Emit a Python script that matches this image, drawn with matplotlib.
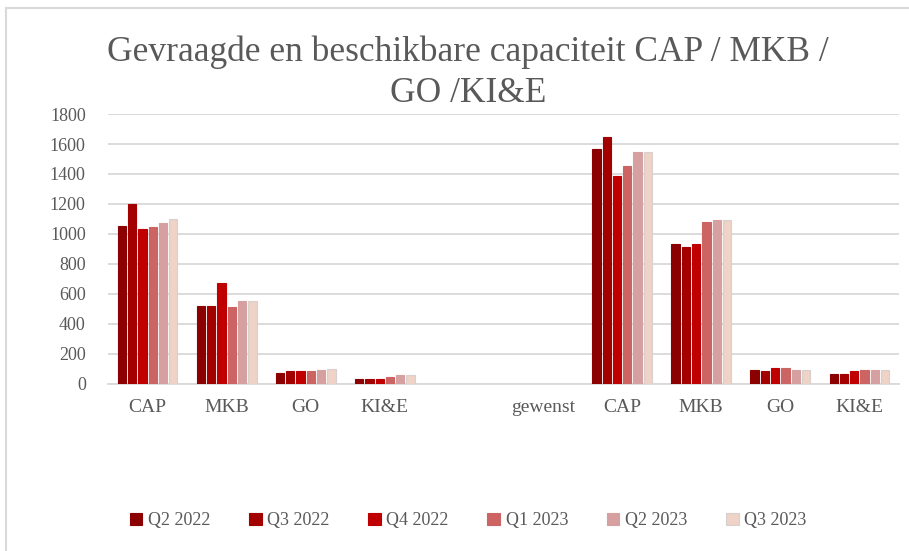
import numpy as np
import matplotlib
matplotlib.use('Agg')
from matplotlib import pyplot as plt
from matplotlib.lines import Line2D

# categorieen op de x-as (lege plek tussen de twee groepen)
categories = ['CAP', 'MKB', 'GO', 'KI&E', '', 'gewenst', 'CAP', 'MKB', 'GO', 'KI&E']
quarters = ['Q2 2022', 'Q3 2022', 'Q4 2022', 'Q1 2023', 'Q2 2023', 'Q3 2023']

# waarden per kwartaal (None = geen balk)
q2_2022 = [1050, 520, 76, 33, None, None, 1570, 935, 90, 67]
q3_2022 = [1200, 520, 85, 33, None, None, 1645, 910, 84, 64]
q4_2022 = [1030, 675, 85, 31, None, None, 1385, 935, 106, 89]
q1_2023 = [1045, 510, 89, 47, None, None, 1450, 1080, 106, 93]
q2_2023 = [1075, 555, 91, 58, None, None, 1550, 1095, 95, 91]
q3_2023 = [1100, 555, 98, 58, None, None, 1550, 1095, 95, 91]

series = [q2_2022, q3_2022, q4_2022, q1_2023, q2_2023, q3_2023]
colors = ['#8B0000', '#A30000', '#C00000', '#CD6464', '#D6A0A0', '#EED3C6']
edges = ['#8B0000', '#A30000', '#C00000', '#CD6464', '#D6A0A0', '#D8D0CE']

plt.rcParams['font.family'] = ['Liberation Serif', 'DejaVu Serif']
text_color = '#595959'

fig = plt.figure(figsize=(9.09, 5.51), dpi=100)
ax = fig.add_axes([0.1188, 0.3031, 0.8702, 0.49])

x = np.arange(len(categories))
pitch = 0.13
for i, (vals, name) in enumerate(zip(series, quarters)):
    xs = [xx + (i - 2.5) * pitch for xx, v in zip(x, vals) if v is not None]
    ys = [v for v in vals if v is not None]
    ax.bar(xs, ys, width=0.105, color=colors[i], edgecolor=edges[i],
           linewidth=0.8, label=name, zorder=3)

ax.set_xlim(-0.5, len(categories) - 0.5)
ax.set_ylim(0, 1800)
ax.set_yticks(range(0, 1801, 200))
ax.set_xticks(x)
ax.set_xticklabels(categories)
ax.grid(axis='y', color='#D9D9D9', linewidth=1.3, zorder=0)
for s in ['top', 'right', 'left']:
    ax.spines[s].set_visible(False)
ax.spines['bottom'].set_color('#D9D9D9')
ax.spines['bottom'].set_linewidth(1.3)
ax.tick_params(axis='y', length=0, pad=16, labelsize=13, labelcolor=text_color)
ax.tick_params(axis='x', length=0, pad=11, labelsize=14, labelcolor=text_color)

fig.text(0.515, 0.868, 'Gevraagde en beschikbare capaciteit CAP / MKB /\nGO /KI&E',
         ha='center', va='center', fontsize=25.5, color=text_color, linespacing=1.3)

leg = fig.legend(loc='center', bbox_to_anchor=(0.515, 0.055), ncol=6, frameon=False,
                 fontsize=13, handlelength=0.7, handleheight=0.7, handletextpad=0.3,
                 columnspacing=2.15)
for t in leg.get_texts():
    t.set_color(text_color)

# rand van de grafiek
fig.add_artist(Line2D([0.007, 0.007], [0, 0.986], transform=fig.transFigure,
                      color='#D9D9D9', linewidth=1.5))
fig.add_artist(Line2D([0.007, 1.0], [0.986, 0.986], transform=fig.transFigure,
                      color='#D9D9D9', linewidth=1.5))

fig.savefig('out.png', dpi=100)
